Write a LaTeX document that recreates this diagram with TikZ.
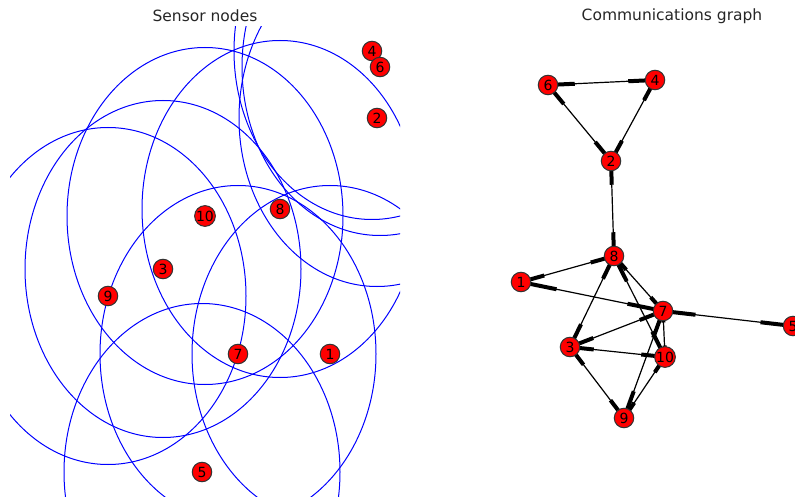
\documentclass[tikz,border=0pt]{standalone}
\usepackage{fontspec}
\setmainfont{DejaVu Sans}
\usetikzlibrary{calc}
\pgfdeclarelayer{bg}
\pgfsetlayers{bg,main}
\begin{document}
\begin{tikzpicture}[x=1pt,y=-1pt,
  sensor/.style={circle,draw=black!80,fill=red,line width=1pt,minimum size=19.5pt,inner sep=0pt,font=\fontsize{14}{14}\selectfont},
  radiorange/.style={draw=blue,line width=1pt},
  link/.style={line width=1.2pt},
  head/.style={line width=4pt},
  ttl/.style={font=\fontsize{15.5}{16}\selectfont,text=black!85}]
\useasboundingbox (0,0) rectangle (795,497);
\node[ttl] (t1) at (205,16) {Sensor nodes};
\node[ttl] (t2) at (672,16) {Communications graph};
% sensor nodes (left)
\node[sensor] (s1) at (330,354) {1};
\node[sensor] (s2) at (377,118) {2};
\node[sensor] (s3) at (163,269) {3};
\node[sensor] (s4) at (372,51) {4};
\node[sensor] (s5) at (202,472) {5};
\node[sensor] (s6) at (380,67) {6};
\node[sensor] (s7) at (238,354) {7};
\node[sensor] (s8) at (280,209) {8};
\node[sensor] (s9) at (108,296) {9};
\node[sensor] (s10) at (205,216) {10};
\begin{pgfonlayer}{bg}
\begin{scope}
\clip (10,27) rectangle (400,497);
\foreach \n in {1,...,10}
  \draw[radiorange] (s\n.center) ellipse [x radius=138pt, y radius=168.5pt];
\end{scope}
\end{pgfonlayer}
% communications graph (right)
\node[sensor] (g1) at (521,282) {1};
\node[sensor] (g2) at (611,161) {2};
\node[sensor] (g3) at (570,347) {3};
\node[sensor] (g4) at (655,80) {4};
\node[sensor] (g5) at (793,326) {5};
\node[sensor] (g6) at (548,85) {6};
\node[sensor] (g7) at (663,311) {7};
\node[sensor] (g8) at (614,256) {8};
\node[sensor] (g9) at (624,418) {9};
\node[sensor] (g10) at (665,357) {10};
\begin{pgfonlayer}{bg}
\foreach \a/\b in {6/4,6/2,4/2,2/8,8/1,8/7,8/10,8/3,1/7,7/5,7/3,7/10,7/9,3/10,3/9,10/9}{
  \draw[link] (g\a.center) -- (g\b.center);
  \draw[head] ($(g\a.center)!0.75!(g\b.center)$) -- (g\b.center);
  \draw[head] ($(g\b.center)!0.75!(g\a.center)$) -- (g\a.center);
}
\end{pgfonlayer}
\end{tikzpicture}
\end{document}
